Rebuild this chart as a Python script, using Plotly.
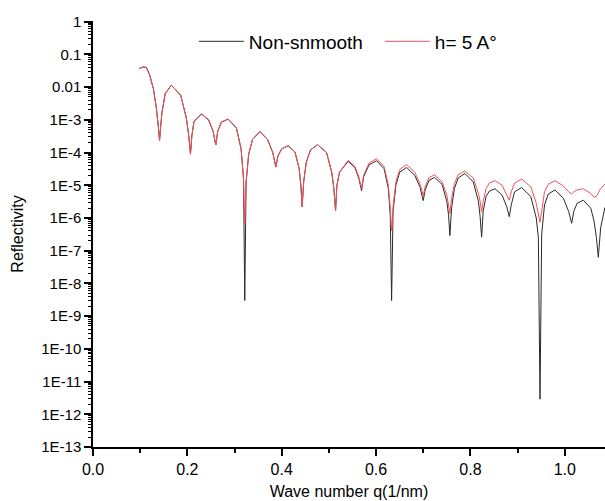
import plotly.graph_objects as go

# Wave number q (1/nm), shared by both series
q = [0.098, 0.106, 0.113, 0.120, 0.128, 0.134, 0.1385, 0.141,
     0.1435, 0.146, 0.153, 0.166, 0.186, 0.198, 0.203, 0.2066,
     0.2095, 0.214, 0.2299, 0.245, 0.2545, 0.2602,
     0.2645, 0.272, 0.2863, 0.304, 0.314, 0.319, 0.3217,
     0.3245, 0.330, 0.338, 0.3536, 0.370, 0.381, 0.3875,
     0.392, 0.400, 0.4136, 0.428, 0.437, 0.4405, 0.4433,
     0.4465, 0.452, 0.461, 0.4759, 0.495, 0.506, 0.5105, 0.5141,
     0.517, 0.5225, 0.5408, 0.555, 0.5635, 0.5692,
     0.5735, 0.585, 0.6011, 0.617, 0.626, 0.630, 0.6329,
     0.636, 0.642, 0.650, 0.6647, 0.682, 0.693, 0.6999,
     0.704, 0.712, 0.7241, 0.740, 0.750, 0.7535, 0.7565,
     0.760, 0.766, 0.774, 0.7883, 0.806, 0.817, 0.8205, 0.8237,
     0.827, 0.833, 0.840, 0.852, 0.867, 0.877, 0.8823,
     0.8865, 0.8935, 0.9086, 0.928, 0.9395, 0.944, 0.9474,
     0.951, 0.957, 0.965, 0.9792, 0.997, 1.008, 1.0146,
     1.019, 1.026, 1.0392, 1.055, 1.062, 1.067, 1.071, 1.076, 1.085]

# Reflectivity, non-smooth interface
r_nonsmooth = [3.7e-2, 4.1e-2, 4.0e-2, 2.4e-2, 8.9e-3, 2.5e-3, 6.3e-4, 2.3e-4,
               6.3e-4, 1.6e-3, 6.3e-3, 1.15e-2, 5.6e-3, 1.1e-3, 3.2e-4, 8.9e-5,
               3.2e-4, 8.9e-4, 1.5e-3, 1.0e-3, 4.5e-4, 1.7e-4,
               4.5e-4, 8.5e-4, 1.05e-3, 5.6e-4, 1.26e-4, 1.6e-5, 3.0e-9,
               1.26e-5, 8.9e-5, 2.5e-4, 4.4e-4, 2.5e-4, 1.0e-4, 3.6e-5,
               7.9e-5, 1.3e-4, 1.6e-4, 1.05e-4, 3.2e-5, 1.0e-5, 2.2e-6,
               1.26e-5, 5.0e-5, 1.2e-4, 1.74e-4, 1.0e-4, 2.5e-5, 7.9e-6, 1.66e-6,
               1.0e-5, 2.5e-5, 5.4e-5, 3.5e-5, 1.6e-5, 6.8e-6,
               1.8e-5, 4.2e-5, 5.6e-5, 3.2e-5, 7.9e-6, 1.26e-6, 3.0e-9,
               1.6e-6, 1.0e-5, 2.5e-5, 3.5e-5, 2.0e-5, 8.9e-6, 3.4e-6,
               7.1e-6, 1.4e-5, 1.74e-5, 1.05e-5, 3.2e-6, 1.26e-6, 2.9e-7,
               2.0e-6, 7.9e-6, 1.66e-5, 2.3e-5, 1.26e-5, 3.2e-6, 1.1e-6, 2.6e-7,
               1.6e-6, 4.5e-6, 6.6e-6, 7.8e-6, 5.0e-6, 2.2e-6, 1.1e-6,
               2.5e-6, 6.3e-6, 8.5e-6, 4.5e-6, 1.0e-6, 2.5e-7, 2.9e-12,
               3.2e-7, 2.5e-6, 5.4e-6, 7.2e-6, 4.0e-6, 1.6e-6, 6.9e-7,
               1.6e-6, 2.8e-6, 3.5e-6, 2.0e-6, 8.0e-7, 2.5e-7, 6.3e-8, 5.0e-7, 2.1e-6]

# Reflectivity, roughness h = 5 A
r_h5 = [3.7e-2, 4.1e-2, 4.0e-2, 2.4e-2, 8.9e-3, 2.5e-3, 6.3e-4, 2.3e-4,
        6.3e-4, 1.6e-3, 6.3e-3, 1.15e-2, 5.6e-3, 1.1e-3, 3.2e-4, 8.9e-5,
        3.2e-4, 8.9e-4, 1.5e-3, 1.0e-3, 4.5e-4, 1.7e-4,
        4.5e-4, 8.5e-4, 1.05e-3, 5.6e-4, 1.26e-4, 1.6e-5, 6.3e-7,
        1.26e-5, 8.9e-5, 2.5e-4, 4.4e-4, 2.5e-4, 1.0e-4, 3.6e-5,
        7.9e-5, 1.3e-4, 1.6e-4, 1.05e-4, 3.2e-5, 1.0e-5, 2.2e-6,
        1.26e-5, 5.0e-5, 1.2e-4, 1.74e-4, 1.0e-4, 2.5e-5, 7.9e-6, 1.66e-6,
        1.0e-5, 2.5e-5, 5.75e-5, 3.8e-5, 1.8e-5, 7.9e-6,
        2.0e-5, 4.8e-5, 6.5e-5, 3.7e-5, 1.0e-5, 2.0e-6, 4.1e-7,
        2.2e-6, 1.26e-5, 3.0e-5, 4.3e-5, 2.5e-5, 1.1e-5, 4.8e-6,
        8.9e-6, 1.7e-5, 2.1e-5, 1.26e-5, 5.0e-6, 2.5e-6, 1.35e-6,
        4.0e-6, 1.1e-5, 2.1e-5, 2.75e-5, 1.66e-5, 5.6e-6, 3.2e-6, 1.5e-6,
        3.2e-6, 7.9e-6, 1.17e-5, 1.38e-5, 1.0e-5, 5.2e-6, 3.5e-6,
        6.3e-6, 1.17e-5, 1.55e-5, 8.9e-6, 2.8e-6, 1.4e-6, 7.4e-7,
        1.6e-6, 6.3e-6, 1.07e-5, 1.38e-5, 9.5e-6, 6.3e-6, 5.4e-6,
        6.3e-6, 7.2e-6, 7.8e-6, 5.6e-6, 4.3e-6, 4.6e-6, 6.0e-6, 7.9e-6, 1.1e-5]

x_tickvals = [0.0, 0.2, 0.4, 0.6, 0.8, 1.0]
x_ticktext = ["0.0", "0.2", "0.4", "0.6", "0.8", "1.0"]
y_tickvals = [1, 1e-1, 1e-2, 1e-3, 1e-4, 1e-5, 1e-6, 1e-7, 1e-8, 1e-9,
              1e-10, 1e-11, 1e-12, 1e-13]
y_ticktext = ["1", "0.1", "0.01", "1E-3", "1E-4", "1E-5", "1E-6", "1E-7",
              "1E-8", "1E-9", "1E-10", "1E-11", "1E-12", "1E-13"]

font = "Liberation Sans, Arial, sans-serif"

fig = go.Figure()
fig.add_trace(go.Scatter(x=q, y=r_nonsmooth, mode="lines", name="Non-snmooth",
                         line=dict(color="#2a2a2a", width=1)))
fig.add_trace(go.Scatter(x=q, y=r_h5, mode="lines", name="h= 5 A°",
                         line=dict(color="#f5505a", width=1)))

minor_y = [m * 10.0 ** e for e in range(-13, 0) for m in range(2, 10)]

fig.update_layout(
    width=605, height=501,
    margin=dict(l=93, r=0, t=21, b=54),
    paper_bgcolor="white", plot_bgcolor="white",
    font=dict(family=font, color="black", size=15),
    showlegend=True,
    legend=dict(orientation="h", x=0.197, y=0.952, xanchor="left", yanchor="middle",
                font=dict(size=19, family=font), bgcolor="rgba(0,0,0,0)",
                itemwidth=45, entrywidth=126, entrywidthmode="pixels"),
    xaxis=dict(range=[0, 1.0852], tickmode="array", tickvals=x_tickvals,
               ticktext=x_ticktext, ticks="outside", ticklen=7, tickwidth=1.5,
               tickcolor="black", showline=True, linecolor="black", linewidth=1.5,
               showgrid=False, zeroline=False, automargin=False,
               minor=dict(tickmode="array", tickvals=[0.1, 0.3, 0.5, 0.7, 0.9],
                          ticks="outside", ticklen=4, tickwidth=1.5, tickcolor="black"),
               tickfont=dict(size=16),
               title=dict(text="Wave number q(1/nm)", font=dict(size=16), standoff=9)),
    yaxis=dict(type="log", range=[-13, 0.02], tickmode="array", tickvals=y_tickvals,
               ticktext=y_ticktext, ticks="outside", ticklen=7, tickwidth=1.5,
               tickcolor="black", showline=True, linecolor="black", linewidth=1.5,
               showgrid=False, zeroline=False, automargin=False,
               minor=dict(tickmode="array", tickvals=minor_y, ticks="outside",
                          ticklen=3, tickwidth=1, tickcolor="black"),
               tickfont=dict(size=15),
               title=dict(text="Reflectivity", font=dict(size=16), standoff=14)),
)

# remove the default page margin so the figure fills the window exactly
fig.write_html("out.html",
               config={"displayModeBar": False},
               post_script="document.body.style.margin='0';"
                           "document.body.style.overflow='hidden';")
